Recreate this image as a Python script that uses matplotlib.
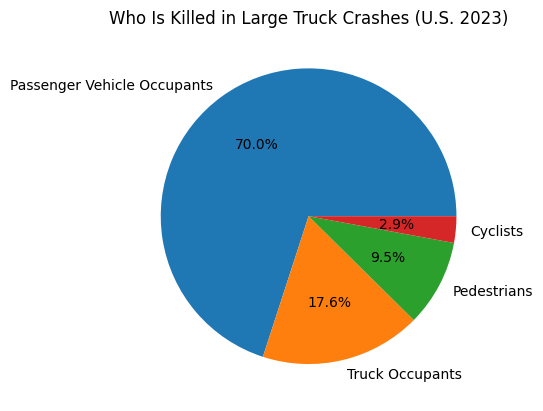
import matplotlib
matplotlib.use("Agg")
import matplotlib.pyplot as plt

# share of deaths by person type (percent)
categories = ["Passenger Vehicle Occupants", "Truck Occupants", "Pedestrians", "Cyclists"]
shares = [70.0, 17.6, 9.5, 2.9]

fig, ax = plt.subplots(figsize=(6.4, 4.8), dpi=100)
ax.pie(shares, labels=categories, autopct="%1.1f%%")
ax.set_title("Who Is Killed in Large Truck Crashes (U.S. 2023)")

fig.savefig("out.png", bbox_inches="tight")
